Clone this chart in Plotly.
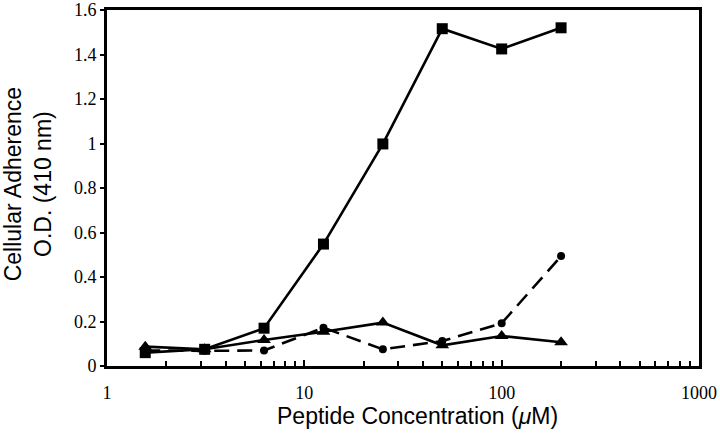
import plotly.graph_objects as go

conc = [1.5625, 3.125, 6.25, 12.5, 25, 50, 100, 200]
squares = [0.06, 0.075, 0.17, 0.548, 0.998, 1.516, 1.425, 1.52]
circles = [0.07, 0.068, 0.07, 0.172, 0.075, 0.112, 0.192, 0.494]
triangles = [0.087, 0.075, 0.117, 0.154, 0.195, 0.093, 0.135, 0.107]

x_ticks = [1, 10, 100, 1000]
x_tick_labels = ["1", "10", "100", "1000"]
x_title = "Peptide Concentration (<i>μ</i>M)"
y_title = "Cellular Adherence<br>O.D. (410 nm)"

fig = go.Figure()
fig.add_trace(go.Scatter(x=conc, y=squares, mode="lines+markers",
                         line=dict(color="black", width=2.6),
                         marker=dict(symbol="square", size=11, color="black")))
fig.add_trace(go.Scatter(x=conc, y=circles, mode="lines+markers",
                         line=dict(color="black", width=2.6, dash="15px,8px"),
                         marker=dict(symbol="circle", size=8, color="black")))
fig.add_trace(go.Scatter(x=conc, y=triangles, mode="lines+markers",
                         line=dict(color="black", width=2.6),
                         marker=dict(symbol="triangle-up", size=12, color="black")))

fig.update_layout(
    width=720, height=438,
    margin=dict(l=107, r=21, t=10, b=72),
    plot_bgcolor="white", paper_bgcolor="white",
    showlegend=False,
    font=dict(family="Liberation Serif", color="black", size=18),
    annotations=[
        dict(text=x_title, xref="paper", yref="paper", x=0.525, y=-0.14,
             xanchor="center", yanchor="middle", showarrow=False,
             font=dict(family="Liberation Sans", size=23, color="black")),
        dict(text=y_title, xref="paper", yref="paper", x=-0.132, y=0.51,
             xanchor="center", yanchor="middle", showarrow=False, textangle=-90,
             font=dict(family="Liberation Sans", size=23, color="black")),
    ],
)
fig.update_xaxes(
    type="log", range=[0, 3], automargin=False,
    tickvals=x_ticks, ticktext=x_tick_labels,
    ticks="inside", ticklen=6, tickwidth=2, tickcolor="black",
    minor=dict(ticks="inside", ticklen=5, tickwidth=2, tickcolor="black",
               tickvals=[m * d for d in (1, 10, 100) for m in range(2, 10)]),
    showline=True, linewidth=3, linecolor="black", mirror=True,
    showgrid=False, zeroline=False,
    tickfont=dict(family="Liberation Serif", size=18),
    ticklabelstandoff=8, ticklabeloverflow="allow",
)
fig.update_yaxes(
    range=[0, 1.6], dtick=0.2, automargin=False,
    ticks="outside", ticklen=4, tickwidth=2, tickcolor="black",
    showline=True, linewidth=3, linecolor="black", mirror=True,
    showgrid=False, zeroline=False,
    tickfont=dict(family="Liberation Serif", size=18),
    ticklabeloverflow="allow",
)
fig.write_html(
    "out.html",
    config={"displayModeBar": False},
    post_script="document.body.style.margin='0';document.body.style.overflow='hidden';",
)
